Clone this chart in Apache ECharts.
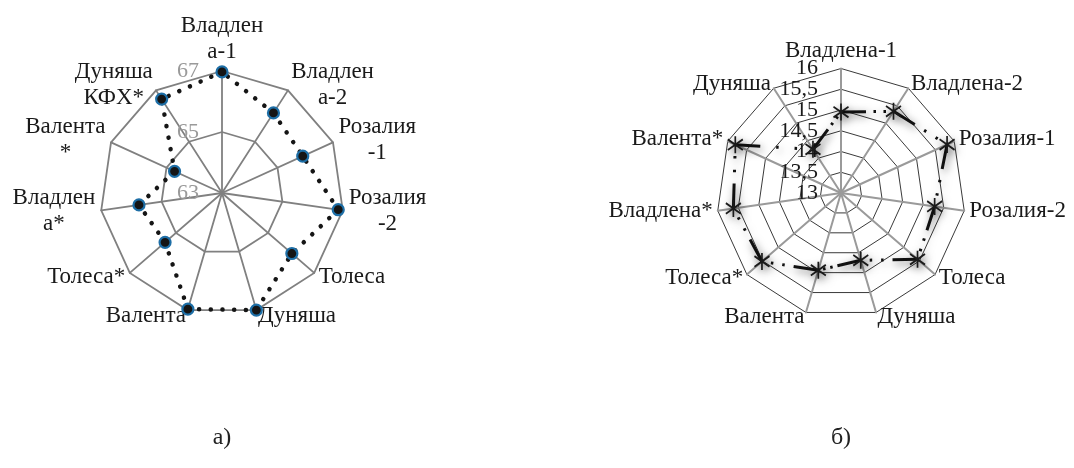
<!DOCTYPE html>
<html><head><meta charset="utf-8">
<script src="https://cdn.jsdelivr.net/npm/echarts@6/dist/echarts.min.js"></script>
<style>html,body{margin:0;padding:0;background:#fff}#c{width:1074px;height:468px}</style>
</head><body><div id="c"></div>
<script>
// ---- data (clockwise from the top axis) ----
const namesA = ['Владлен\nа-1','Владлен\nа-2','Розалия\n-1','Розалия\n-2','Толеса','Дуняша','Валента','Толеса*','Владлен\nа*','Валента\n*','Дуняша\nКФХ*'];
const valuesA = [66.97, 66.12, 65.91, 66.85, 66.03, 67.0, 66.97, 65.47, 65.75, 64.71, 66.66];
const ticksA = [63, 65, 67];

const namesB = ['Владлена-1','Владлена-2','Розалия-1','Розалия-2','Толеса','Дуняша','Валента','Толеса*','Владлена*','Валента*','Дуняша'];
const valuesB = [14.95, 15.34, 15.81, 15.28, 15.44, 14.69, 14.94, 15.52, 15.62, 15.80, 14.25];
const ticksB = [13, 13.5, 14, 14.5, 15, 15.5, 16];

const captions = ['а)', 'б)'];

// ECharts lays indicators out counter-clockwise; reorder so the picture runs clockwise
const ccw = a => [a[0]].concat(a.slice(1).reverse());

const FONT = '"Liberation Serif", "Times New Roman", serif';
const centerA = [222, 193], radiusA = 122;
const centerB = [841, 193], radiusB = 124.5;

// "long dash - dot - dot" pattern restarted on every segment (as in the source),
// the dash leaving each point toward its clockwise neighbour
function dashPattern(values, min, max, radius) {
  const n = values.length;
  const pts = values.map((v, k) => {
    const r = radius * (v - min) / (max - min), a = k * 2 * Math.PI / n;
    return [r * Math.sin(a), -r * Math.cos(a)];
  });
  const order = ccw(pts.map((p, i) => i)); order.push(order[0]);
  const arr = [0];
  for (let i = 0; i < n; i++) {
    const a = pts[order[i]], b = pts[order[i + 1]];
    const L = Math.hypot(b[0] - a[0], b[1] - a[1]);
    const D = Math.min(25, L * 0.55), dot = 2.5;
    const g = Math.max((L - D - 2 * dot) / 3, 0.5);
    arr.push(g, dot, g, dot, Math.max(L - D - 2 * dot - 2 * g, 0.5), D);
  }
  arr.push(2000);
  return arr;
}

function nameStyle() {
  return {
    formatter: n => n.split('\n').map(s => '{c|' + s + '}').join('\n'),
    rich: { c: { align: 'center', fontFamily: FONT, fontSize: 23, lineHeight: 26, color: '#1a1a1a' } },
    fontFamily: FONT, fontSize: 23, color: '#1a1a1a'
  };
}

// overlay radar with a single upward axis that carries the tick labels;
// 'step' picks every step-th tick so that labels on one overlay never collide
function tickRadar(center, radius, ticks, color, step, offset) {
  const shown = ticks.filter((t, i) => i % step === offset);
  return {
    center, radius, startAngle: 90, shape: 'polygon',
    splitNumber: ticks.length - 1,
    indicator: [{ name: '', min: ticks[0], max: ticks[ticks.length - 1] }],
    axisName: { show: false },
    axisLine: { show: false }, splitLine: { show: false }, splitArea: { show: false }, axisTick: { show: false },
    axisLabel: {
      show: true, showMinLabel: true, showMaxLabel: true, hideOverlap: false,
      margin: 23, color, fontFamily: FONT, fontSize: 22,
      formatter: v => shown.some(t => Math.abs(t - v) < 1e-9) ? String(v).replace('.', ',') : ''
    },
    silent: true
  };
}

const chart = echarts.init(document.getElementById('c'), null, { renderer: 'canvas' });
chart.setOption({
  backgroundColor: '#fff',
  animation: false,
  radar: [
    {
      center: centerA, radius: radiusA, startAngle: 90, shape: 'polygon',
      splitNumber: ticksA.length - 1, nameGap: 6,
      indicator: ccw(namesA).map(n => ({ name: n, min: ticksA[0], max: ticksA[ticksA.length - 1] })),
      axisName: nameStyle(),
      axisLine: { lineStyle: { color: '#808080', width: 1.8 } },
      splitLine: { lineStyle: { color: '#808080', width: 1.8 } },
      splitArea: { show: false }, axisTick: { show: false }, axisLabel: { show: false }
    },
    {
      center: centerB, radius: radiusB, startAngle: 90, shape: 'polygon',
      splitNumber: ticksB.length - 1, nameGap: 5,
      indicator: ccw(namesB).map(n => ({ name: n, min: ticksB[0], max: ticksB[ticksB.length - 1] })),
      axisName: nameStyle(),
      axisLine: { lineStyle: { color: '#9a9a9a', width: 2 } },
      splitLine: { lineStyle: { color: '#3a3a3a', width: 1 } },
      splitArea: { show: false }, axisTick: { show: false }, axisLabel: { show: false }
    },
    tickRadar(centerA, radiusA, ticksA, '#9a9a9a', 1, 0),
    tickRadar(centerB, radiusB, ticksB, '#1a1a1a', 2, 0),
    tickRadar(centerB, radiusB, ticksB, '#1a1a1a', 2, 1)
  ],
  series: [
    {
      type: 'radar', radarIndex: 0, silent: true,
      symbol: 'circle', symbolSize: 11,
      itemStyle: { color: '#151515', borderColor: '#1d6ea6', borderWidth: 2.2 },
      lineStyle: { color: '#151515', width: 4.5, type: [0.1, 11.6], cap: 'round' },
      data: [{ value: ccw(valuesA) }]
    },
    {
      type: 'radar', radarIndex: 1, silent: true,
      symbol: 'path://M7,0L7,16M0,3L14,13M0,13L14,3', symbolSize: [15, 17], symbolKeepAspect: true,
      itemStyle: { color: '#1a1a1a', borderColor: '#1a1a1a', borderWidth: 1.8,
        shadowBlur: 8, shadowColor: 'rgba(0,0,0,0.55)', shadowOffsetX: 2, shadowOffsetY: 3 },
      lineStyle: { color: '#111', width: 3, type: dashPattern(valuesB, ticksB[0], ticksB[ticksB.length - 1], radiusB), cap: 'butt',
        shadowBlur: 8, shadowColor: 'rgba(0,0,0,0.55)', shadowOffsetX: 2, shadowOffsetY: 3 },
      data: [{ value: ccw(valuesB) }]
    }
  ],
  graphic: [
    { type: 'text', x: centerA[0], y: 438, style: { text: captions[0], align: 'center', verticalAlign: 'middle', font: '24px ' + FONT, fill: '#222' } },
    { type: 'text', x: centerB[0], y: 438, style: { text: captions[1], align: 'center', verticalAlign: 'middle', font: '24px ' + FONT, fill: '#222' } }
  ]
});
</script>
</body></html>
